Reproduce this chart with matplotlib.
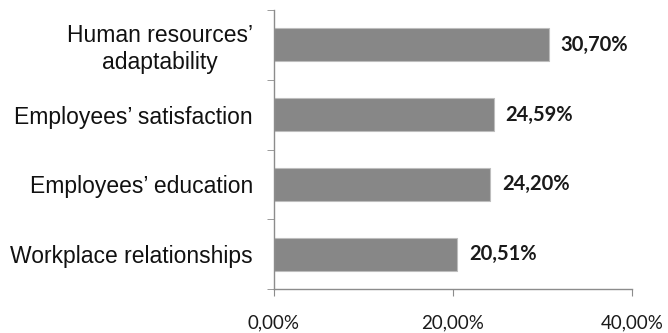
import numpy as np
import matplotlib.pyplot as plt
from matplotlib.ticker import FuncFormatter

categories = ["Workplace relationships", "Employees\u2019 education",
              "Employees\u2019 satisfaction", "Human resources\u2019\nadaptability"]
values = [20.51, 24.20, 24.59, 30.70]
xticks = [0, 20, 40]

fig = plt.figure(figsize=(6.68, 3.33), dpi=100)
ax = fig.add_axes([0.410, 0.132, 0.536, 0.838])

y = np.arange(len(categories))
ax.barh(y, values, height=0.47, color="#878787", edgecolor="#bdbdbd", linewidth=0.8)

for yi, v in zip(y, values):
    ax.text(v + 1.3, yi, f"{v:.2f}%".replace(".", ","), va="center", ha="left",
            fontsize=14.5, fontweight="bold", family="Lato", color="#1a1a1a")

ax.set_xlim(0, 40)
ax.set_ylim(-0.5, len(categories) - 0.5)
ax.set_xticks(xticks)
ax.xaxis.set_major_formatter(FuncFormatter(lambda v, p: f"{v:.2f}%".replace(".", ",")))
for lab in ax.get_xticklabels():
    lab.set_family("Lato")
    lab.set_fontsize(13.5)
    lab.set_color("#1a1a1a")

ax.set_yticks(y)
ax.set_yticklabels(categories)
for lab in ax.get_yticklabels():
    lab.set_family("Liberation Sans")
    lab.set_fontsize(16.5)
    lab.set_multialignment("center")
    lab.set_color("#111111")
ax.set_yticks(np.arange(len(categories) + 1) - 0.5, minor=True)
ax.tick_params(axis="y", which="major", length=0, pad=15)
ax.tick_params(axis="y", which="minor", length=5, color="#8c8c8c", direction="out")
ax.tick_params(axis="x", length=5, color="#8c8c8c", pad=13)

for s in ["top", "right"]:
    ax.spines[s].set_visible(False)
for s in ["left", "bottom"]:
    ax.spines[s].set_color("#8c8c8c")
    ax.spines[s].set_linewidth(1)

fig.savefig("out.png", dpi=100)
